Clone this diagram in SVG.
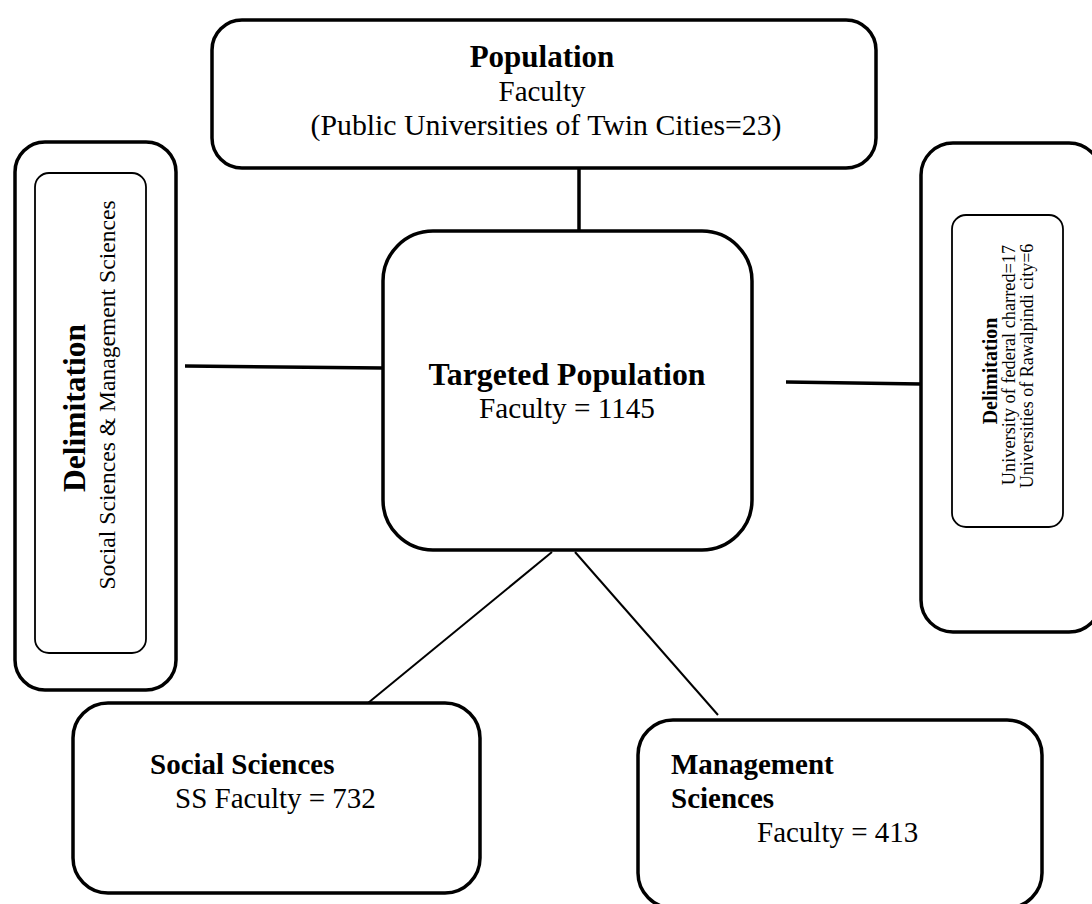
<svg xmlns="http://www.w3.org/2000/svg" width="1092" height="904" viewBox="0 0 1092 904">
<style>
.box{fill:#fff;stroke:#000;stroke-width:3.5}
.inner{fill:#fff;stroke:#000;stroke-width:1.8}
.c{stroke:#000;fill:none}
.t{font-family:"Liberation Serif","Times New Roman",serif;fill:#000}
.b{font-weight:bold}
</style>
<rect width="1092" height="904" fill="#fff"/>
<g id="connectors">
<line class="c" x1="579" y1="168" x2="579" y2="231" stroke-width="3.5"/>
<line class="c" x1="185" y1="366" x2="383" y2="368" stroke-width="3.5"/>
<line class="c" x1="786" y1="382" x2="921" y2="384" stroke-width="3.5"/>
<line class="c" x1="552" y1="552" x2="368" y2="703" stroke-width="2"/>
<line class="c" x1="575" y1="552" x2="718" y2="715" stroke-width="2"/>
</g>
<g id="population">
<rect class="box" x="212" y="20" width="664" height="148" rx="30"/>
<text class="t b" x="542" y="67" font-size="31" text-anchor="middle">Population</text>
<text class="t" x="542" y="101" font-size="29" text-anchor="middle">Faculty</text>
<text class="t" x="546" y="135" font-size="29.8" text-anchor="middle">(Public Universities of Twin Cities=23)</text>
</g>
<g id="targeted">
<rect class="box" x="383" y="231" width="369" height="319" rx="50"/>
<text class="t b" x="567" y="385" font-size="31.8" text-anchor="middle">Targeted Population</text>
<text class="t" x="567" y="418" font-size="29.2" text-anchor="middle">Faculty = 1145</text>
</g>
<g id="delimitation-left">
<rect class="box" x="15" y="142" width="161" height="548" rx="30"/>
<rect class="inner" x="35" y="173" width="111" height="480" rx="14"/>
<text class="t b" transform="translate(85,408) rotate(-90)" font-size="31.5" text-anchor="middle">Delimitation</text>
<text class="t" transform="translate(115,395) rotate(-90)" font-size="23.6" text-anchor="middle">Social Sciences &amp; Management Sciences</text>
</g>
<g id="delimitation-right">
<rect class="box" x="921" y="143" width="180" height="489" rx="32"/>
<rect class="inner" x="952" y="215" width="111" height="312" rx="14"/>
<text class="t b" transform="translate(997,371) rotate(-90)" font-size="20" text-anchor="middle">Delimitation</text>
<text class="t" transform="translate(1015,365) rotate(-90)" font-size="18.3" text-anchor="middle">University of federal charred=17</text>
<text class="t" transform="translate(1033,366) rotate(-90)" font-size="18" text-anchor="middle">Universities of Rawalpindi city=6</text>
</g>
<g id="social-sciences">
<rect class="box" x="73" y="703" width="407" height="190" rx="35"/>
<text class="t b" x="150" y="774" font-size="29">Social Sciences</text>
<text class="t" x="175" y="808" font-size="29">SS Faculty = 732</text>
</g>
<g id="management-sciences">
<rect class="box" x="638" y="720" width="404" height="188" rx="35"/>
<text class="t b" x="671" y="774" font-size="29">Management</text>
<text class="t b" x="671" y="808" font-size="29">Sciences</text>
<text class="t" x="757" y="842" font-size="29">Faculty = 413</text>
</g>
</svg>
